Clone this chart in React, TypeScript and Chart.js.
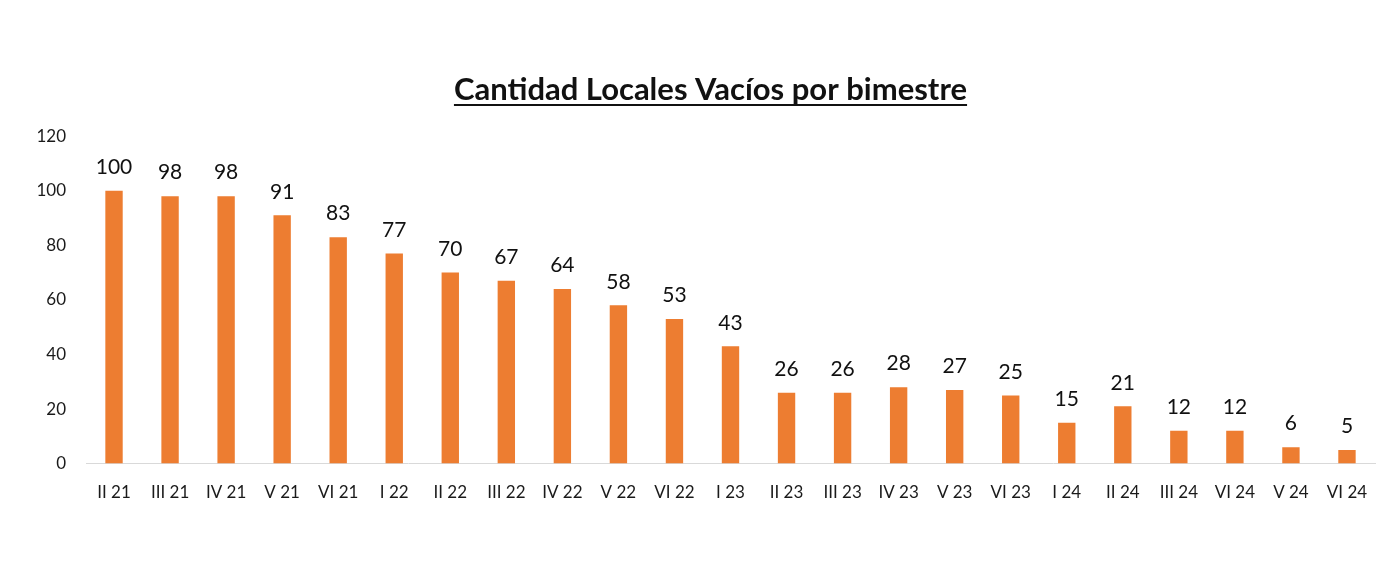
import React, { useEffect, useRef } from "react";
import { Chart, registerables } from "chart.js";

Chart.register(...registerables);

const categories = [
  "II 21", "III 21", "IV 21", "V 21", "VI 21",
  "I 22", "II 22", "III 22", "IV 22", "V 22", "VI 22",
  "I 23", "II 23", "III 23", "IV 23", "V 23", "VI 23",
  "I 24", "II 24", "III 24", "VI 24", "V 24", "VI 24",
];
const values = [100, 98, 98, 91, 83, 77, 70, 67, 64, 58, 53, 43, 26, 26, 28, 27, 25, 15, 21, 12, 12, 6, 5];
const yTicks = [0, 20, 40, 60, 80, 100, 120];
const titleText = "Cantidad Locales Vacíos por bimestre";

const FONT = "Lato, 'Open Sans', sans-serif";
const TITLE_SIZE = 31;

const labelsPlugin = {
  id: "barLabels",
  afterDatasetsDraw(chart: any) {
    const ctx = chart.ctx;
    const meta = chart.getDatasetMeta(0);
    ctx.save();
    ctx.font = `21px ${FONT}`;
    ctx.fillStyle = "#111";
    ctx.textAlign = "center";
    ctx.textBaseline = "bottom";
    meta.data.forEach((bar: any, i: number) => {
      ctx.fillText(String(values[i]), bar.x, bar.y - 13);
    });
    ctx.restore();
  },
};

const titlePlugin = {
  id: "titleDraw",
  afterDraw(chart: any) {
    const t = chart.titleBlock;
    if (!t) return;
    const ctx = chart.ctx;
    ctx.save();
    ctx.font = `bold ${TITLE_SIZE}px ${FONT}`;
    ctx.fillStyle = "#111";
    ctx.textAlign = "center";
    ctx.textBaseline = "middle";
    const w = ctx.measureText(titleText).width;
    const cx = chart.width / 2 + 15;
    const cy = t.top + 71 + (TITLE_SIZE * 1.2) / 2;
    ctx.fillText(titleText, cx, cy);
    const uy = cy + TITLE_SIZE * 0.5;
    ctx.strokeStyle = "#111";
    ctx.lineWidth = 2;
    ctx.beginPath();
    ctx.moveTo(cx - w / 2, uy);
    ctx.lineTo(cx + w / 2, uy);
    ctx.stroke();
    ctx.restore();
  },
};

export default function App() {
  const ref = useRef<HTMLCanvasElement>(null);
  useEffect(() => {
    document.body.style.margin = "0";
    const chart = new Chart(ref.current!, {
      type: "bar",
      data: {
        labels: categories,
        datasets: [
          {
            data: values,
            backgroundColor: "#ED7D31",
            barPercentage: 0.31,
            categoryPercentage: 1,
          },
        ],
      },
      options: {
        animation: false,
        responsive: false,
        layout: { padding: { left: 0, right: 16, top: 0, bottom: 63 } },
        plugins: {
          legend: { display: false },
          tooltip: { enabled: false },
          title: {
            display: true,
            text: titleText,
            color: "rgba(0,0,0,0)",
            font: { family: FONT, size: TITLE_SIZE, weight: "bold" },
            padding: { top: 71, bottom: 28 },
          },
        },
        scales: {
          x: {
            grid: { display: false, drawTicks: false },
            border: { display: true, color: "#d9d9d9", width: 1 },
            ticks: {
              color: "#1a1a1a",
              font: { family: FONT, size: 17 },
              padding: 19,
              maxRotation: 0,
              autoSkip: false,
            },
          },
          y: {
            min: 0,
            max: 120,
            afterFit(scale: any) {
              scale.width = 86;
            },
            afterBuildTicks(scale: any) {
              scale.ticks = yTicks.map((v) => ({ value: v }));
            },
            grid: { display: false, drawTicks: false },
            border: { display: false },
            ticks: {
              color: "#1a1a1a",
              font: { family: FONT, size: 17 },
              padding: 20,
            },
          },
        },
      },
      plugins: [labelsPlugin, titlePlugin],
    });
    return () => chart.destroy();
  }, []);
  return (
    <div style={{ width: 1391, height: 585, background: "#fff" }}>
      <canvas ref={ref} width={1391} height={585} style={{ display: "block" }} />
    </div>
  );
}
